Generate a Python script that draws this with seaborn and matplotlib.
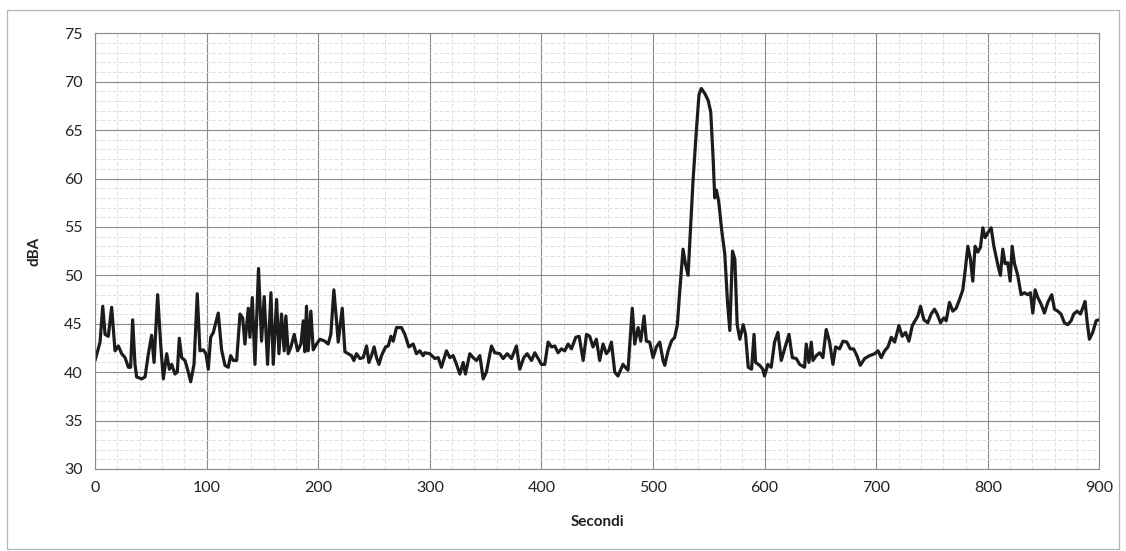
import matplotlib
matplotlib.use("Agg")
import matplotlib.pyplot as plt
from matplotlib.ticker import MultipleLocator
from matplotlib.patches import Rectangle
import seaborn as sns
import pandas as pd

secondi = [
    0, 4.5, 6.9, 9.0, 11.9, 14.9, 17.9, 20.9, 23.9, 26.9, 29.9, 31.9, 33.7, 35.8, 37.3,
    41.8, 44.8, 47.8, 50.7, 52.9, 56.1, 58.8, 61.2, 64.2, 66.6, 68.7, 71.6, 73.7, 75.5,
    77.6, 80.6, 83.6, 85.7, 88.7, 91.6, 94.0, 97.0, 99.4, 101.5, 103.6, 106.0, 110.4,
    113.4, 116.4, 119.4, 121.5, 123.9, 126.9, 129.9, 132.3, 134.3, 137.3, 138.8, 140.9,
    143.3, 146.5,
    149.2, 151.6, 154.6, 157.6, 159.7, 162.7, 164.8, 167.1, 169.5, 171.0, 173.1, 175.5,
    178.5, 181.5, 184.5, 186.6, 188.0, 189.5, 191.0, 193.4, 195.5, 198.5, 201.5, 205.9,
    208.9, 211.3, 214.0, 216.4, 217.9, 221.5, 223.9, 226.8, 229.8, 231.9, 234.3, 237.3,
    240.3, 243.3, 245.4, 247.7, 250.1, 252.2, 254.4, 256.7, 260.3, 262.7, 265.1, 267.2,
    270.1, 274.6, 277.6, 281.2, 285.1, 288.0, 291.0, 294.0,
    295.5, 300.0, 304.5, 307.5, 310.4, 314.9, 317.9, 320.9, 323.9, 326.9, 329.9, 331.9,
    335.8, 338.8, 341.8, 344.8, 347.8, 350.7, 355.2, 358.2, 362.7, 365.7, 369.3, 373.2,
    377.6, 380.6, 384.2, 387.2, 391.1, 394.1, 397.0, 400.0, 403.0, 406.0, 409.0, 412.0,
    414.9, 417.9, 420.9, 423.9, 426.9, 430.8, 433.8, 437.4, 440.4,
    443.3, 446.2, 449.2, 452.2, 455.2, 458.2, 460.3, 462.7, 465.7, 468.6, 473.1, 475.2,
    477.6, 481.4, 483.6, 486.6, 489.0, 492.0, 494.0, 497.0, 500.0, 503.0, 506.0, 509.0,
    510.5, 513.5, 516.5, 519.4, 521.8, 523.9, 526.9, 529.0, 531.4, 533.8, 535.8, 538.8,
    541.2, 543.3, 546.3, 549.3, 551.7, 553.8, 555.3, 556.8, 558.9, 561.3, 564.3, 566.7,
    568.8, 571.2, 573.3, 575.4, 577.8, 580.8, 582.9, 585.3, 588.3, 590.5,
    591.9, 595.5, 598.4, 599.9, 602.9, 605.9, 608.9, 611.9, 614.9, 617.9, 621.8, 624.8,
    628.4, 631.3, 635.8, 637.3, 639.7, 641.8, 643.3, 646.3, 649.3, 652.2, 655.2, 658.2,
    661.2, 663.6, 667.2, 670.2, 673.7, 676.7, 679.7, 682.7, 685.7, 689.6, 694.1, 698.6,
    701.6, 704.5, 707.5, 710.5, 713.5, 716.5, 720.3, 723.3, 726.3, 729.3, 732.3, 735.3,
    737.3, 739.7, 742.7, 746.2, 749.2, 752.2, 754.6, 757.6, 760.6, 762.7, 765.6, 768.6,
    771.6, 774.6, 777.6, 779.7, 782.1, 784.4, 786.5, 788.6, 791.0, 793.4, 795.5, 797.6,
    800.0, 803.0, 805.4, 807.4, 809.5, 811.3, 813.4, 815.5, 817.9, 820.0, 821.8, 823.9,
    826.8, 829.8, 832.8, 835.8, 838.2, 840.3, 842.4, 844.8, 847.8, 850.7, 853.7, 857.3,
    859.7, 862.7, 865.6, 868.6, 871.6, 874.6, 877.0, 880.0, 883.0, 885.0, 887.1, 888.9,
    891.0, 894.0, 897.0, 899.1,
]

dba = [
    41.2, 43.1, 46.8, 43.9, 43.7, 46.7, 42.2, 42.7, 41.9, 41.5, 40.5, 40.5, 45.4, 40.8, 39.5,
    39.3, 39.5, 41.9, 43.8, 41.0, 48.0, 42.9, 39.3, 41.9, 40.3, 40.8, 39.8, 40.0, 43.5,
    41.5, 41.2, 40.0, 39.0, 40.8, 48.1, 42.2, 42.3, 41.9, 40.3, 43.6, 44.1, 46.1,
    42.3, 40.7, 40.5, 41.7, 41.2, 41.2, 46.0, 45.6, 42.9, 46.6, 43.6, 47.7,
    40.8, 50.7,
    43.2, 47.8, 40.8, 48.2, 40.8, 47.5, 41.9, 46.0, 42.2, 45.8, 41.9, 42.6,
    43.9, 42.2, 42.9, 45.3, 42.1, 46.8, 42.2, 46.3, 42.3, 42.9, 43.4, 43.2,
    42.9, 43.9, 48.5, 45.3, 43.1, 46.6, 42.1, 41.9, 41.7, 41.2, 41.9, 41.4,
    41.5, 42.7, 41.0, 41.7, 42.6, 41.5, 40.8, 41.7, 42.6, 42.7, 43.7, 43.2,
    44.6, 44.6, 43.9, 42.6, 42.9, 41.9, 42.2, 41.7,
    42.0, 41.9, 41.4, 41.5, 40.5, 42.2, 41.5, 41.7, 40.8, 39.8, 41.0, 39.8,
    41.9, 41.5, 41.2, 41.7, 39.3, 40.0, 42.7, 42.0, 41.9, 41.4, 41.9, 41.4,
    42.7, 40.3, 41.5, 41.9, 41.2, 42.0, 41.4, 40.8, 40.8, 43.1, 42.6, 42.7,
    42.0, 42.4, 42.2, 42.9, 42.4, 43.6, 43.7, 41.2, 43.9,
    43.7, 42.6, 43.4, 41.2, 42.9, 41.9, 42.2, 43.1, 40.0, 39.6, 40.8, 40.5,
    40.2, 46.6, 42.9, 44.6, 43.2, 45.8, 43.2, 43.1, 41.5, 42.6, 43.1, 41.2,
    40.7, 42.2, 43.2, 43.6, 44.9, 48.3, 52.7, 51.2, 50.0, 55.3, 59.7, 64.9,
    68.7, 69.3, 68.8, 68.1, 66.9, 62.2, 58.0, 58.8, 57.6, 54.9, 52.2, 47.3,
    44.3, 52.5, 51.7, 44.9, 43.4, 44.9, 43.9, 40.5, 40.3, 43.9,
    41.0, 40.7, 40.3, 39.6, 40.8, 40.5, 43.1, 44.1, 41.2, 42.4, 43.9, 41.5,
    41.4, 40.8, 40.5, 42.9, 41.0, 43.1, 41.2, 41.7, 42.0, 41.5, 44.4, 43.1,
    40.8, 42.6, 42.4, 43.2, 43.1, 42.4, 42.4, 41.7, 40.7, 41.4, 41.7, 41.9,
    42.2, 41.5, 42.2, 42.6, 43.6, 43.1, 44.8, 43.7, 44.1, 43.2, 44.8, 45.4,
    45.8, 46.8, 45.4, 45.1, 46.0, 46.5, 46.0, 45.1, 45.6, 45.3, 47.2, 46.3,
    46.6, 47.5, 48.5, 50.5, 53.0, 51.7, 49.4, 53.0, 52.4, 52.9, 54.9, 53.9,
    54.4, 54.9, 53.0, 51.9, 50.8, 50.0, 52.7, 51.2, 51.3, 49.4, 53.0, 51.2,
    50.0, 48.0, 48.2, 48.0, 48.2, 46.1, 48.5, 47.7, 47.0, 46.1, 47.2, 48.0,
    46.5, 46.3, 46.0, 45.1, 44.9, 45.3, 46.0, 46.3, 46.0, 46.6, 47.3, 45.3,
    43.4, 44.1, 45.3, 45.4,
]

x_ticks = [0, 100, 200, 300, 400, 500, 600, 700, 800, 900]
y_ticks = [30, 35, 40, 45, 50, 55, 60, 65, 70, 75]

df = pd.DataFrame({"Secondi": secondi, "dBA": dba})

sns.set_style("white")
plt.rcParams["font.family"] = ["Lato", "DejaVu Sans"]

fig = plt.figure(figsize=(11.26, 5.51), dpi=100)
ax = fig.add_axes([0.0844, 0.149, 0.892, 0.7905])

# outer frame of the chart area
fig.patches.append(Rectangle((7 / 1126, 2 / 551), 1112 / 1126, 539 / 551,
                             transform=fig.transFigure, fill=False,
                             edgecolor="#b5b5b5", linewidth=0.9))

sns.lineplot(data=df, x="Secondi", y="dBA", ax=ax, color="#1c1c1c",
             linewidth=2.3, estimator=None, sort=False)

ax.set_xlim(0, 900)
ax.set_ylim(30, 75)
ax.set_xticks(x_ticks)
ax.set_yticks(y_ticks)
ax.xaxis.set_minor_locator(MultipleLocator(20))
ax.yaxis.set_minor_locator(MultipleLocator(1))
ax.grid(which="major", color="#8a8a8a", linewidth=0.8)
ax.grid(which="minor", color="#e0e0e0", linewidth=0.7, linestyle=(0, (4, 2)))
ax.set_axisbelow(True)

for s in ax.spines.values():
    s.set_color("#8a8a8a")
    s.set_linewidth(0.8)

ax.tick_params(axis="both", which="major", length=5, color="#8a8a8a",
               labelsize=11.5, labelcolor="#222222", direction="out", pad=4)
ax.tick_params(axis="both", which="minor", length=0)

ax.set_xlabel("Secondi", fontsize=11, fontweight="bold", color="#222222", labelpad=14)
ax.set_ylabel("dBA", fontsize=11, fontweight="bold", color="#222222", labelpad=16)

fig.savefig("out.png", dpi=100)
